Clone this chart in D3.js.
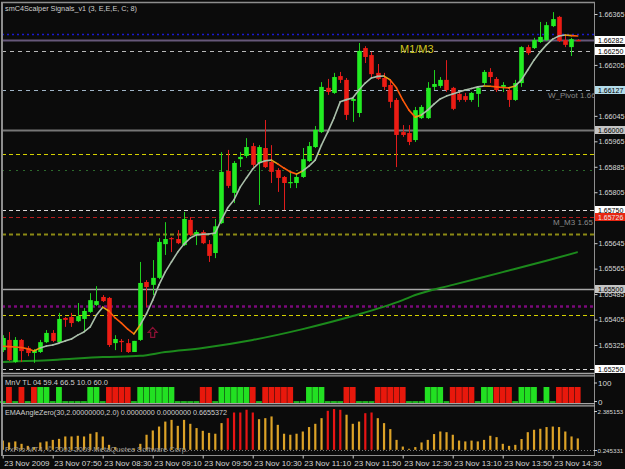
<!DOCTYPE html>
<html><head><meta charset="utf-8">
<script src="https://cdn.jsdelivr.net/npm/d3@7"></script>
<style>
body{margin:0;background:#000;}
svg{display:block;font-family:"Liberation Sans",Arial,sans-serif;}
</style></head><body>
<svg id="chart" width="625" height="469"></svg>
<script>
// ---- data (23 Nov 2009 07:10 .. 14:50) ----
var timeLabels = ["23 Nov 2009","23 Nov 07:50","23 Nov 08:30","23 Nov 09:10","23 Nov 09:50","23 Nov 10:30",
  "23 Nov 11:10","23 Nov 11:50","23 Nov 12:30","23 Nov 13:10","23 Nov 13:50","23 Nov 14:30"];
var timeTickBars = [0,8,16,24,32,40,48,56,64,72,80,88];

var opens = [1.65309,1.65341,1.65272,1.65341,1.65316,1.65300,1.65303,1.65334,1.65363,1.65334,
  1.65410,1.65413,1.65400,1.65407,1.65429,1.65451,1.65476,1.65473,1.65331,1.65338,
  1.65331,1.65303,1.65341,1.65523,1.65514,1.65536,1.65642,1.65661,1.65658,1.65639,
  1.65718,1.65671,1.65680,1.65642,1.65614,1.65708,1.65872,1.65803,1.65909,1.65919,
  1.65950,1.65897,1.65944,1.65900,1.65875,1.65853,1.65834,1.65834,1.65853,1.65903,
  1.65947,1.65994,1.66133,1.66117,1.66170,1.66158,1.66092,1.66054,1.66258,1.66236,
  1.66180,1.66164,1.66142,1.66095,1.65994,1.65991,1.65969,1.66038,1.66038,1.66136,
  1.66139,1.66158,1.66133,1.66114,1.66107,1.66095,1.66114,1.66148,1.66183,1.66161,
  1.66136,1.66126,1.66095,1.66148,1.66261,1.66258,1.66277,1.66283,1.66327,1.66356,
  1.66283,1.66261,1.66283];
var highs = [1.65356,1.65366,1.65350,1.65344,1.65322,1.65312,1.65341,1.65372,1.65372,1.65426,
  1.65413,1.65426,1.65457,1.65441,1.65488,1.65510,1.65482,1.65476,1.65356,1.65344,
  1.65344,1.65338,1.65586,1.65529,1.65592,1.65661,1.65711,1.65664,1.65686,1.65743,
  1.65727,1.65686,1.65686,1.65655,1.65721,1.65931,1.65938,1.65903,1.65931,1.65975,
  1.65960,1.65953,1.66032,1.65953,1.65881,1.65856,1.65869,1.65859,1.65944,1.65963,
  1.66013,1.66151,1.66161,1.66180,1.66183,1.66164,1.66104,1.66274,1.66264,1.66246,
  1.66208,1.66180,1.66158,1.66101,1.66016,1.66016,1.66073,1.66079,1.66151,1.66189,
  1.66167,1.66220,1.66136,1.66120,1.66117,1.66120,1.66136,1.66189,1.66195,1.66167,
  1.66151,1.66133,1.66158,1.66264,1.66268,1.66290,1.66340,1.66340,1.66371,1.66359,
  1.66299,1.66290,1.66286];
var lows = [1.65303,1.65275,1.65269,1.65272,1.65290,1.65269,1.65300,1.65331,1.65334,1.65331,
  1.65382,1.65382,1.65397,1.65366,1.65426,1.65448,1.65460,1.65319,1.65309,1.65303,
  1.65300,1.65303,1.65338,1.65444,1.65482,1.65532,1.65608,1.65617,1.65642,1.65636,
  1.65667,1.65639,1.65642,1.65586,1.65598,1.65705,1.65818,1.65771,1.65884,1.65913,
  1.65881,1.65765,1.65881,1.65834,1.65806,1.65749,1.65818,1.65818,1.65850,1.65900,
  1.65944,1.65991,1.66111,1.66114,1.66148,1.66032,1.66026,1.66041,1.66211,1.66164,
  1.66158,1.66126,1.66070,1.65884,1.65979,1.65953,1.65963,1.66035,1.66035,1.66126,
  1.66133,1.66120,1.66063,1.66089,1.66089,1.66089,1.66073,1.66142,1.66148,1.66120,
  1.66120,1.66073,1.66092,1.66136,1.66236,1.66255,1.66274,1.66280,1.66324,1.66277,
  1.66261,1.66233,1.66280];
var closes = [1.65347,1.65278,1.65341,1.65306,1.65300,1.65309,1.65334,1.65363,1.65338,1.65407,
  1.65404,1.65394,1.65416,1.65432,1.65466,1.65463,1.65463,1.65325,1.65344,1.65334,
  1.65303,1.65338,1.65520,1.65507,1.65536,1.65649,1.65658,1.65658,1.65645,1.65721,
  1.65671,1.65680,1.65645,1.65605,1.65698,1.65869,1.65825,1.65897,1.65916,1.65947,
  1.65891,1.65947,1.65884,1.65869,1.65850,1.65834,1.65837,1.65853,1.65909,1.65950,
  1.66001,1.66136,1.66120,1.66167,1.66158,1.66048,1.66098,1.66249,1.66230,1.66176,
  1.66161,1.66136,1.66089,1.65985,1.65985,1.65963,1.66063,1.66073,1.66133,1.66145,
  1.66158,1.66126,1.66067,1.66095,1.66095,1.66117,1.66133,1.66183,1.66167,1.66126,
  1.66142,1.66095,1.66148,1.66261,1.66242,1.66283,1.66293,1.66330,1.66349,1.66280,
  1.66268,1.66286,1.66282];

// smC4Scalper signal line, one value per bar
var fastLine = [1.65321,1.65320,1.65319,1.65317,1.65313,1.65306,1.65316,1.65322,1.65325,1.65331,
  1.65338,1.65344,1.65356,1.65366,1.65382,1.65419,1.65444,1.65432,1.65410,1.65394,
  1.65375,1.65360,1.65388,1.65423,1.65466,1.65514,1.65554,1.65586,1.65617,1.65642,
  1.65661,1.65671,1.65673,1.65674,1.65677,1.65718,1.65756,1.65781,1.65821,1.65850,
  1.65878,1.65897,1.65904,1.65906,1.65894,1.65881,1.65869,1.65862,1.65872,1.65887,
  1.65906,1.65953,1.65994,1.66038,1.66089,1.66096,1.66101,1.66126,1.66148,1.66164,
  1.66169,1.66170,1.66158,1.66133,1.66095,1.66063,1.66041,1.66048,1.66063,1.66082,
  1.66098,1.66107,1.66114,1.66120,1.66126,1.66131,1.66136,1.66139,1.66138,1.66136,
  1.66134,1.66133,1.66139,1.66158,1.66189,1.66220,1.66246,1.66268,1.66286,1.66296,
  1.66299,1.66297,1.66296];

// slow green moving average, [bar, price]
var slowLine = [[0,1.65272],[8,1.65278],[16,1.65287],[22,1.65291],[26,1.65303],[32,1.65316],
  [40,1.65341],[48,1.65375],[56,1.65416],[64,1.65466],[66,1.65482],[72,1.65514],
  [80,1.65554],[88,1.65595],[92,1.65617]];

var levelPrices = [1.66302,1.66282,1.66250,1.66127,1.66000,1.65925,1.65875,1.65750,
  1.65726,1.65674,1.65500,1.65448,1.65419,1.65250];
var priceTicks = [1.66365,1.66205,1.66045,1.65965,1.65885,1.65805,1.65645,1.65565,1.65485,1.65405,1.65325];
var boxPrices = [1.66282,1.66250,1.66127,1.66000,1.65750,1.65726,1.65500,1.65250];

var arrowSignals = [[24,1.65365]];

// MnV: 1 = green, -1 = red, 0 = none
var mnvSignal = [0,-1,0,-1,0,-1,1,1,0,1, 0,0,0,0,1,1,0,-1,-1,-1,
  -1,0,1,1,1,1,1,1,0,0, 0,0,-1,-1,0,1,1,1,1,1,
  -1,0,-1,-1,-1,-1,-1,0,0,1, 1,1,0,0,0,-1,-1,0,0,0,
  -1,-1,-1,-1,-1,0,0,0,1,1, 1,0,-1,-1,-1,-1,0,1,1,-1,
  -1,-1,0,1,1,1,0,1,0,-1, -1,-1,-1];

var emaAngle = [0.54,0.43,0.49,0.35,0.23,0.16,0.43,0.49,0.58,0.64,
  0.78,0.78,0.82,0.78,0.94,1.03,0.78,0.29,0.16,0.02,
  0.03,0.06,0.35,0.88,1.13,1.36,1.65,1.75,1.40,1.75,
  1.52,1.27,1.11,0.99,0.94,1.56,1.85,2.18,2.18,2.34,
  2.18,1.79,1.85,1.95,1.46,0.94,0.88,0.94,1.07,1.33,
  1.52,1.85,2.28,2.385,2.34,2.05,1.52,1.65,2.14,2.18,
  1.85,1.56,1.21,0.58,0.19,0.06,0.16,0.43,0.58,0.92,
  1.07,1.03,0.88,0.54,0.49,0.54,0.49,0.58,0.82,0.74,
  0.35,0.23,0.29,0.63,1.03,1.17,1.23,1.33,1.36,1.33,
  1.07,0.78,0.6655];
var emaStrong = [36,37,38,39,40,52,53,54,58,59];
var emaRange = [-0.245331, 2.385153];

// ---- layout ----
var svg = d3.select("#chart");
var W = 625, H = 469;
var left = 2, right = 594;
var mainTop = 2, mainBot = 372;
var emaBot = 455;

svg.append("rect").attr("width", W).attr("height", H).attr("fill", "#0b0b0b");

var x = d3.scaleLinear().domain([0, 92]).range([2.7, 577.7]);
var y = d3.scaleLinear().domain([1.65250, 1.66365]).range([368.9, 14]);
var my = d3.scaleLinear().domain([0, 100]).range([403, 387]);
var ey = d3.scaleLinear().domain(emaRange).range([454, 409]);

var defs = svg.append("defs");
defs.append("clipPath").attr("id", "clipMain")
  .append("rect").attr("x", left + 1).attr("y", mainTop + 1)
  .attr("width", right - left - 1).attr("height", mainBot - mainTop - 1);

var g = svg.append("g").attr("clip-path", "url(#clipMain)");

// level lines
var levelStyle = [
  {c:"#1a1ad0", w:1.5, d:"2,3"}, {c:"#66587a", w:2, d:null}, {c:"#b8b8b8", w:1, d:"4,4"},
  {c:"#9fb4c6", w:1, d:"4,4"}, {c:"#767676", w:2, d:null}, {c:"#d4d000", w:1, d:"4,3"},
  {c:"#2c6a2c", w:1, d:"2,5"}, {c:"#d8d8d8", w:1, d:"4,3"}, {c:"#b41c1c", w:1, d:"4,3"},
  {c:"#8c8a14", w:2, d:"4,3"}, {c:"#a8a8a8", w:1.5, d:null}, {c:"#7a0a7a", w:2.5, d:"3,3"},
  {c:"#d4d000", w:1, d:"4,3"}, {c:"#d8d8d8", w:1, d:"4,3"}];
g.selectAll("line.level").data(levelPrices).enter().append("line")
  .attr("class", "level")
  .attr("x1", left).attr("x2", right)
  .attr("y1", d => Math.round(y(d)) + 0.5).attr("y2", d => Math.round(y(d)) + 0.5)
  .attr("stroke", (d, i) => levelStyle[i].c)
  .attr("stroke-width", (d, i) => levelStyle[i].w)
  .attr("stroke-dasharray", (d, i) => levelStyle[i].d);

// level captions
g.append("text").attr("x", 400).attr("y", 53).attr("font-size", 11)
  .attr("fill", "#cfc31c").text("M1/M3");
g.append("text").attr("x", 548).attr("y", 98).attr("font-size", 8)
  .attr("fill", "#8a8a8a").text("W_Pivot 1.66");
g.append("text").attr("x", 553).attr("y", 225).attr("font-size", 8)
  .attr("fill", "#8a8a8a").text("M_M3 1.65");

// slow MA
g.append("path")
  .datum(slowLine)
  .attr("fill", "none").attr("stroke", "#1c8a1c").attr("stroke-width", 2)
  .attr("d", d3.line().x(d => x(d[0])).y(d => y(d[1])).curve(d3.curveMonotoneX));

// candles
var bars = d3.range(opens.length).map(i => ({
  i: i, o: opens[i], h: highs[i], l: lows[i], c: closes[i], up: closes[i] >= opens[i]
}));
var cg = g.selectAll("g.candle").data(bars).enter().append("g").attr("class", "candle");
cg.append("line")
  .attr("x1", d => Math.round(x(d.i)) + 0.5).attr("x2", d => Math.round(x(d.i)) + 0.5)
  .attr("y1", d => y(d.h)).attr("y2", d => y(d.l))
  .attr("stroke", d => d.up ? "#1fcf1f" : "#e01c1c").attr("stroke-width", 1);
cg.append("rect")
  .attr("x", d => Math.round(x(d.i)) - 1.8).attr("width", 4.6)
  .attr("y", d => y(Math.max(d.o, d.c)))
  .attr("height", d => Math.max(1.2, Math.abs(y(d.o) - y(d.c))))
  .attr("fill", d => d.up ? "#22ec22" : "#ec1c14");

// fast signal line, coloured by direction
var segs = [];
for (var i = 1; i < fastLine.length; i++) {
  var dir = fastLine[i] > fastLine[i - 1] ? 1 : -1;
  var prev = i > 1 ? (fastLine[i - 1] > fastLine[i - 2] ? 1 : -1) : dir;
  segs.push({a: i - 1, b: i, col: dir !== prev ? "#e8a414" : (dir > 0 ? "#aabfaa" : "#ff5a0a")});
}
g.selectAll("line.fast").data(segs).enter().append("line")
  .attr("class", "fast")
  .attr("x1", d => x(d.a)).attr("y1", d => y(fastLine[d.a]))
  .attr("x2", d => x(d.b)).attr("y2", d => y(fastLine[d.b]))
  .attr("stroke", d => d.col).attr("stroke-width", 1.6).attr("stroke-linecap", "round");

// buy arrows
g.selectAll("path.arrow").data(arrowSignals).enter().append("path")
  .attr("class", "arrow")
  .attr("d", d => {
    var cx = x(d[0]), cy = y(d[1]);
    return "M" + cx + "," + (cy - 5) + "L" + (cx + 4.5) + "," + cy + "L" + (cx + 2) + "," + cy +
      "L" + (cx + 2) + "," + (cy + 5) + "L" + (cx - 2) + "," + (cy + 5) + "L" + (cx - 2) + "," + cy +
      "L" + (cx - 4.5) + "," + cy + "Z";
  })
  .attr("fill", "none").attr("stroke", "#8c1034").attr("stroke-width", 1.2);

svg.append("text").attr("x", 5).attr("y", 11).attr("font-size", 8).attr("fill", "#cfcfcf")
  .attr("textLength", 132).attr("lengthAdjust", "spacingAndGlyphs")
  .text("smC4Scalper Signals_v1 (3, E,E,E, C; 8)");

// ---- MnV panel ----
svg.selectAll("rect.mnv").data(mnvSignal).enter().append("rect")
  .attr("class", "mnv")
  .attr("x", (d, i) => x(i) - 2.9).attr("width", 5.8)
  .attr("y", d => my(d === 0 ? 12 : 100))
  .attr("height", d => my(0) - my(d === 0 ? 12 : 100))
  .attr("fill", d => d > 0 ? "#22e022" : d < 0 ? "#e8180c" : "#20b820");
svg.append("text").attr("x", 5).attr("y", 385).attr("font-size", 8).attr("fill", "#cfcfcf")
  .attr("textLength", 103).attr("lengthAdjust", "spacingAndGlyphs")
  .text("MnV TL 04 59.4 66.5 10.0 60.0");

// ---- EMAAngleZero panel ----
svg.append("line").attr("x1", left).attr("x2", right)
  .attr("y1", Math.round(ey(0)) + 0.5).attr("y2", Math.round(ey(0)) + 0.5)
  .attr("stroke", "#7a7a7a").attr("stroke-dasharray", "1,2");
svg.selectAll("rect.ema").data(emaAngle).enter().append("rect")
  .attr("class", "ema")
  .attr("x", (d, i) => x(i) - 1).attr("width", 2.2)
  .attr("y", d => ey(d)).attr("height", d => ey(0) - ey(d))
  .attr("fill", (d, i) => emaStrong.indexOf(i) >= 0 ? "#e81414" : "#dca227");
svg.append("text").attr("x", 5).attr("y", 415).attr("font-size", 8).attr("fill", "#cfcfcf")
  .attr("textLength", 222).attr("lengthAdjust", "spacingAndGlyphs")
  .text("EMAAngleZero(30,2.00000000,2.0) 0.0000000 0.0000000 0.6655372");
svg.append("text").attr("x", 5).attr("y", 452).attr("font-size", 8).attr("fill", "#9a9a9a")
  .attr("textLength", 183).attr("lengthAdjust", "spacingAndGlyphs")
  .text("FxPro MT4, \u00a9 2001-2009 MetaQuotes Software Corp.");

// ---- frames ----
var frame = "#8e8e8e";
svg.append("line").attr("x1", 2).attr("x2", 2).attr("y1", mainTop).attr("y2", emaBot).attr("stroke", frame).attr("stroke-width", 2);
svg.append("line").attr("x1", right + 0.5).attr("x2", right + 0.5).attr("y1", mainTop).attr("y2", emaBot).attr("stroke", frame);
svg.append("line").attr("x1", 1).attr("x2", right + 1).attr("y1", 2.5).attr("y2", 2.5).attr("stroke", frame).attr("stroke-width", 1.5);
[373.5, 375.8, 403.6, 405.8].forEach(function(v) {
  svg.append("line").attr("x1", 1).attr("x2", right + 1).attr("y1", v).attr("y2", v)
    .attr("stroke", "#a4a4a4").attr("stroke-width", 1.3);
});
svg.append("line").attr("x1", 1).attr("x2", right + 1).attr("y1", emaBot + 0.5).attr("y2", emaBot + 0.5).attr("stroke", frame);

// ---- price axis ----
var yAxis = d3.axisRight(y).tickValues(priceTicks).tickSize(3).tickPadding(1)
  .tickFormat(d3.format(".5f"));
var ya = svg.append("g").attr("transform", "translate(" + (right + 0.5) + ",0)").call(yAxis);
ya.select(".domain").remove();
ya.selectAll("line").attr("stroke", "#cfcfcf");
ya.selectAll("text").attr("font-size", 7.2).attr("fill", "#d8d8d8").attr("font-family", "Liberation Sans, Arial");

var boxStyle = [
  {bg:"#ffffff", fg:"#000"}, {bg:"#ffffff", fg:"#000"}, {bg:"#b4dcea", fg:"#000"}, {bg:"#c4c4c4", fg:"#000"},
  {bg:"#ffffff", fg:"#000"}, {bg:"#e82612", fg:"#e8e8e8"}, {bg:"#c4c4c4", fg:"#000"}, {bg:"#ffffff", fg:"#000"}];
var bx = svg.selectAll("g.pbox").data(boxPrices).enter().append("g").attr("class", "pbox")
  .attr("transform", d => "translate(" + (right + 1) + "," + Math.round(y(d)) + ")");
bx.append("rect").attr("x", 0).attr("y", -4).attr("width", 31).attr("height", 8)
  .attr("fill", (d, i) => boxStyle[i].bg);
bx.append("text").attr("x", 3).attr("y", 2.6).attr("font-size", 7)
  .attr("fill", (d, i) => boxStyle[i].fg).text(d => d3.format(".5f")(d));

// indicator scale labels
[[100, my(100) - 4], [0, my(0) - 1.5]].forEach(function(t) {
  svg.append("line").attr("x1", right).attr("x2", right + 3).attr("y1", t[1]).attr("y2", t[1]).attr("stroke", "#cfcfcf");
  svg.append("text").attr("x", right + 4).attr("y", t[1] + 3).attr("font-size", 8).attr("fill", "#d8d8d8").text(t[0]);
});
[[emaRange[1], 411.5], [emaRange[0], 450.5]].forEach(function(t) {
  svg.append("line").attr("x1", right).attr("x2", right + 3).attr("y1", t[1]).attr("y2", t[1]).attr("stroke", "#cfcfcf");
  svg.append("text").attr("x", right + 3.5).attr("y", t[1] + 2.5).attr("font-size", 6.2)
    .attr("fill", "#d8d8d8")
    .text(d3.format(".6f")(Math.abs(t[0])));
});

// ---- time axis ----
var xAxis = d3.axisBottom(x).tickValues(timeTickBars).tickSize(3).tickPadding(1)
  .tickFormat((d, i) => timeLabels[i]);
var xa = svg.append("g").attr("transform", "translate(0," + (emaBot + 0.5) + ")").call(xAxis);
xa.select(".domain").remove();
xa.selectAll("line").attr("stroke", "#cfcfcf");
xa.selectAll("text").attr("font-size", 8).attr("fill", "#d8d8d8").attr("text-anchor", "start")
  .attr("dx", 1).attr("dy", "0.8em").attr("font-family", "Liberation Sans, Arial");
</script>
</body></html>
